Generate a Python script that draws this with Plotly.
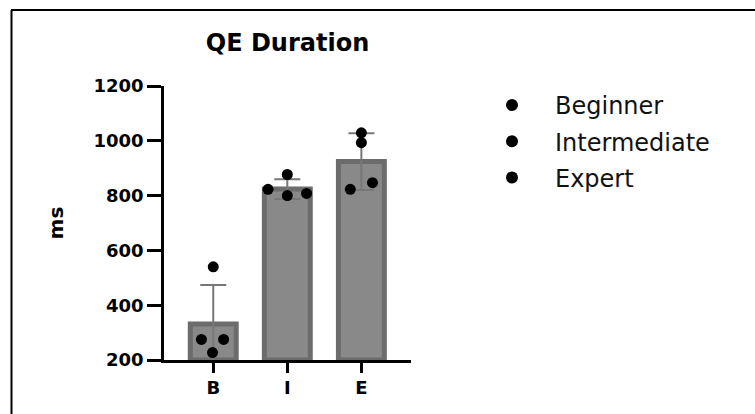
import plotly.graph_objects as go

# ---- data ----
groups = ["B", "I", "E"]
group_names = ["Beginner", "Intermediate", "Expert"]
bar_means = [331, 824, 924]
bar_sd = [143, 36, 104]
points_B = [540, 275, 275, 227]
points_I = [877, 823, 800, 808]
points_E = [1029, 993, 847, 823]
y_ticks = [200, 400, 600, 800, 1000, 1200]

# ---- horizontal jitter of the dots (style only) ----
jitter_B = [0.0, -0.16, 0.14, -0.01]
jitter_I = [0.0, -0.26, 0.0, 0.26]
jitter_E = [0.0, 0.0, 0.15, -0.15]

BOLD = dict(family="DejaVu Sans", color="#000000", weight="bold")
pos = list(range(len(groups)))

fig = go.Figure()
fig.add_trace(go.Bar(
    x=pos, y=[m - 200 for m in bar_means], base=200, width=0.62,
    marker=dict(color="#898989", line=dict(color="#6c6c6c", width=5)),
    error_y=dict(type="data", array=bar_sd, color="#777777", thickness=2, width=13),
    showlegend=False, hoverinfo="skip",
))

for i, (name, pts, jit) in enumerate(zip(group_names,
                                         [points_B, points_I, points_E],
                                         [jitter_B, jitter_I, jitter_E])):
    fig.add_trace(go.Scatter(
        x=[i + j for j in jit], y=pts, mode="markers", name=name,
        legendgroup=name,
        marker=dict(color="#000000", size=11),
        cliponaxis=False,
    ))

W, H = 755, 414
L, R, T, B = 164, 411, 86, 360
pw, ph = R - L, B - T

def px_x(x):
    return (x - L) / pw

def px_y(y):
    return (B - y) / ph

fig.update_layout(
    width=W, height=H,
    margin=dict(l=L, r=W - R, t=T, b=H - B, autoexpand=False),
    paper_bgcolor="white", plot_bgcolor="white",
    showlegend=True,
    legend=dict(
        x=px_x(469), y=px_y(83), xref="paper", yref="paper",
        xanchor="left", yanchor="top",
        font=dict(family="DejaVu Sans", size=24, color="#111111"),
        itemwidth=76, tracegroupgap=2,
        bgcolor="rgba(0,0,0,0)", itemsizing="constant",
    ),
    xaxis=dict(
        range=[-0.665, 2.67], tickvals=pos, ticktext=groups,
        showline=True, linecolor="#000000", linewidth=2.5,
        ticks="outside", ticklen=10, tickwidth=3, tickcolor="#000000",
        tickfont=dict(size=18, **BOLD), showgrid=False, zeroline=False,
        fixedrange=True,
    ),
    yaxis=dict(
        range=[200, 1200], tickvals=y_ticks,
        showline=True, linecolor="#000000", linewidth=2.5,
        ticks="outside", ticklen=14, tickwidth=2.5, tickcolor="#000000",
        tickfont=dict(size=18, **BOLD), showgrid=False, zeroline=False,
        title=dict(text="ms", font=dict(size=20, **BOLD), standoff=25),
        fixedrange=True,
    ),
    title=dict(
        text="QE Duration", x=0.5, xref="paper", y=1 - 43 / H,
        yref="container", xanchor="center", yanchor="middle",
        font=dict(size=24, **BOLD),
    ),
    shapes=[
        dict(type="line", xref="paper", yref="paper",
             x0=px_x(11), x1=px_x(760), y0=px_y(10), y1=px_y(10),
             line=dict(color="#000000", width=2)),
        dict(type="line", xref="paper", yref="paper",
             x0=px_x(11.5), x1=px_x(11.5), y0=px_y(10), y1=px_y(420),
             line=dict(color="#000000", width=2)),
    ],
)

fig.write_html(
    "out.html",
    config={"displayModeBar": False},
    post_script="document.body.style.margin='0';document.body.style.overflow='hidden';",
)
